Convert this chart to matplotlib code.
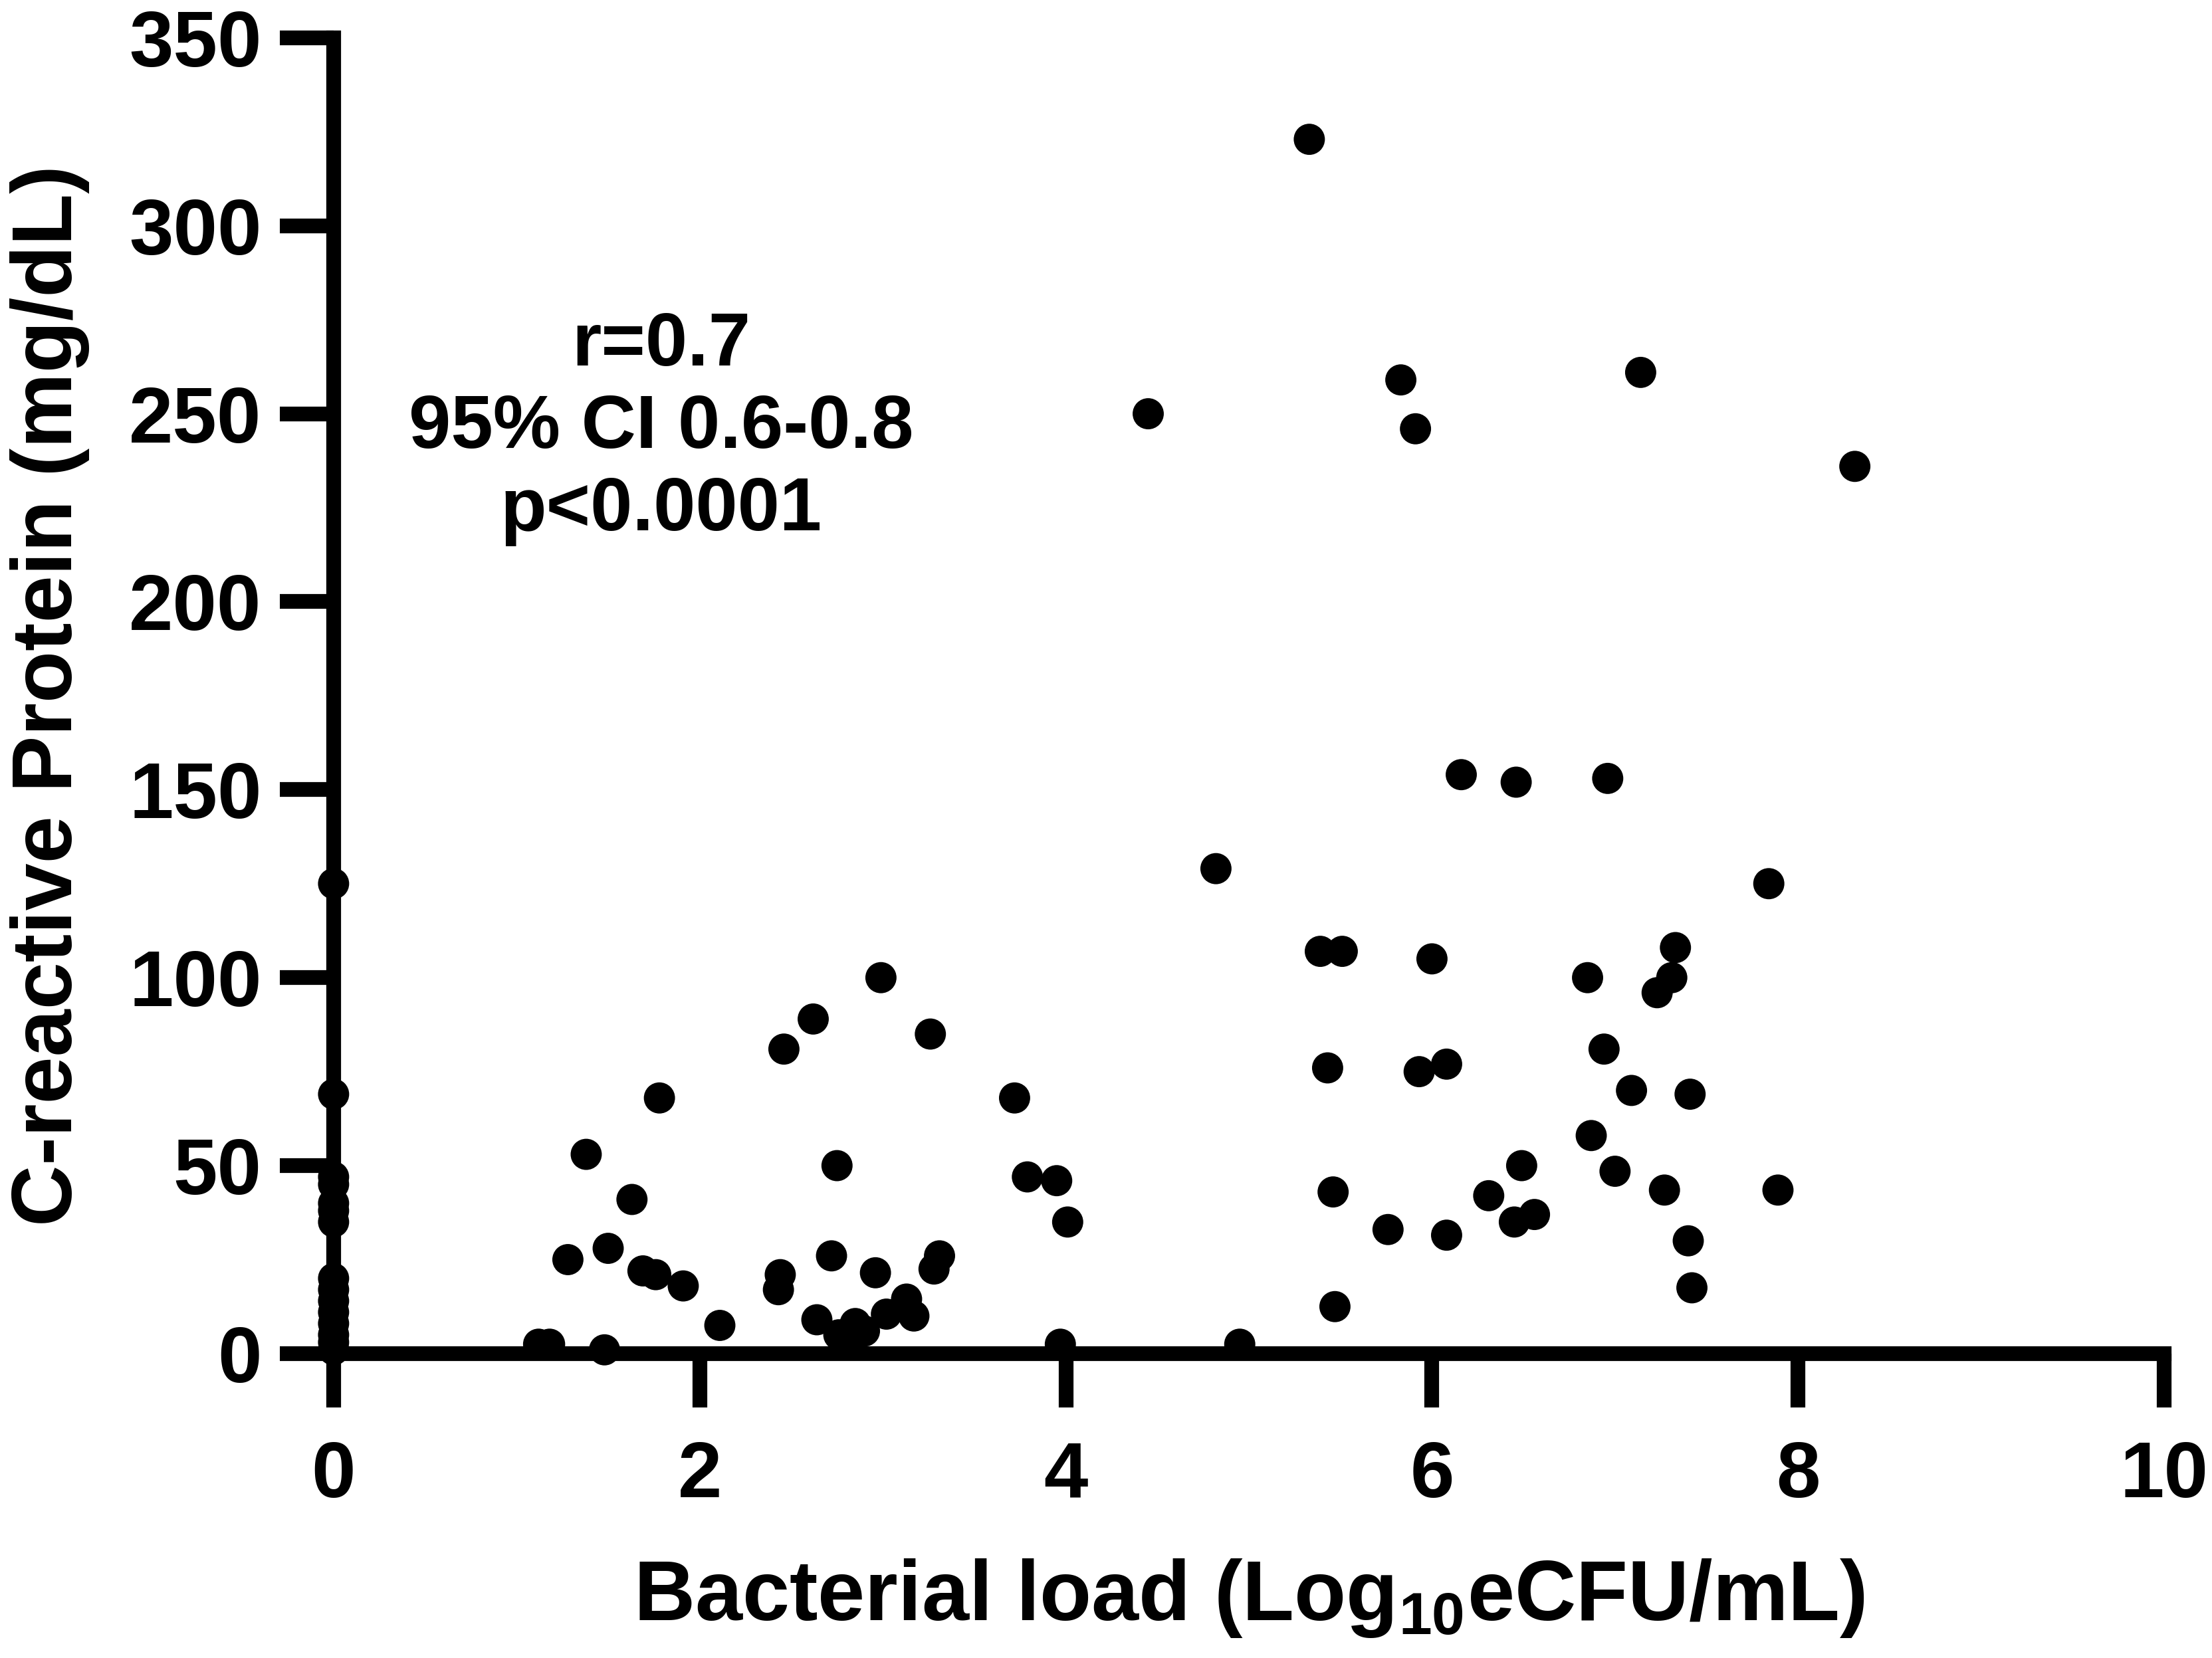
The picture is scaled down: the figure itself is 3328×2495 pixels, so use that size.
import numpy as np
import matplotlib
matplotlib.use("Agg")
import matplotlib.pyplot as plt

plt.rcParams['font.family'] = ['Liberation Sans', 'DejaVu Sans']
plt.rcParams['font.weight'] = 'bold'
plt.rcParams['mathtext.fontset'] = 'custom'
plt.rcParams['mathtext.rm'] = 'Liberation Sans:bold'
plt.rcParams['mathtext.bf'] = 'Liberation Sans:bold'

# patients with no detectable load (x = 0)
zero_y = [125, 69, 47, 45, 40, 38, 35, 20, 17, 14, 11, 8, 5, 3, 1]

# low load cluster
low_x = [2.99, 2.62, 3.26, 2.46, 1.78, 3.72, 1.38, 2.75, 1.63, 3.79, 3.95, 4.01,
         1.28, 1.50, 1.69, 1.76, 1.91, 2.11, 2.44, 2.43, 2.72, 2.96, 3.31, 3.28,
         3.13, 3.17, 3.02, 2.64, 2.85, 2.82, 2.76, 2.90, 1.12, 1.18, 1.48, 3.97]
low_y = [100, 89, 85, 81, 68, 68, 53, 50, 41, 47, 46, 35,
         25, 28, 22, 21, 18, 7.5, 21, 17, 26, 21.5, 26, 22.5,
         14.5, 10, 10.5, 9, 8, 4, 5, 6, 2.5, 2.5, 1, 2.5]

# high load cluster
high_x = [4.45, 5.33, 5.83, 5.91, 7.14, 8.31, 4.82, 6.16, 6.46, 6.96, 7.84,
          5.39, 5.51, 6.00, 7.33, 6.85, 7.31, 7.23, 6.94, 5.43, 5.93, 6.08,
          7.09, 7.41, 6.87, 6.49, 7.00, 5.46, 6.31, 7.27, 7.89, 6.56, 6.45,
          5.76, 6.08, 7.40, 7.42, 5.47, 4.95]
high_y = [250, 323, 259, 246, 261, 236, 129, 154, 152, 153, 125,
          107, 107, 105, 108, 100, 100, 96, 81, 76, 75, 77,
          70, 69, 58, 50, 48.5, 43, 42, 43.5, 43.5, 37, 35,
          33, 31.5, 30, 17.5, 12.5, 2.5]

xs = np.concatenate([np.zeros(len(zero_y)), low_x, high_x])
ys = np.concatenate([zero_y, low_y, high_y])

fig = plt.figure(figsize=(16.64, 12.475), dpi=200)
ax = fig.add_axes([0.1508, 0.1836, 0.9784 - 0.1508, 0.9772 - 0.1836])

ax.scatter(xs, ys, s=285, color='black', edgecolors='none', clip_on=False, zorder=5)

ax.set_xlim(0, 10)
ax.set_ylim(0, 350)
ax.set_xticks([0, 2, 4, 6, 8, 10])
ax.set_yticks(np.arange(0, 351, 50))
ax.spines['top'].set_visible(False)
ax.spines['right'].set_visible(False)
for sp in ['left', 'bottom']:
    ax.spines[sp].set_linewidth(8)
ax.tick_params(axis='both', which='major', direction='out', length=29, width=8,
               labelsize=43, pad=10)
ax.tick_params(axis='x', pad=18)
for lab in ax.get_xticklabels() + ax.get_yticklabels():
    lab.set_fontweight('bold')

ax.set_ylabel('C-reactive Protein (mg/dL)', fontsize=46, fontweight='bold')
ax.yaxis.label.set_va('baseline')
ax.yaxis.set_label_coords(-0.1431, 0.5)
ax.set_xlabel(r'Bacterial load (Log$_{\mathbf{10}}$eCFU/mL)', fontsize=46,
              fontweight='bold')
ax.xaxis.label.set_va('baseline')
ax.xaxis.set_label_coords(0.5, -0.2025)

ax.text(1.79, 246, 'r=0.7\n95% CI 0.6-0.8\np<0.0001', fontsize=41, fontweight='bold',
        ha='center', va='center', linespacing=1.22)

fig.savefig('out.png', dpi=200)
